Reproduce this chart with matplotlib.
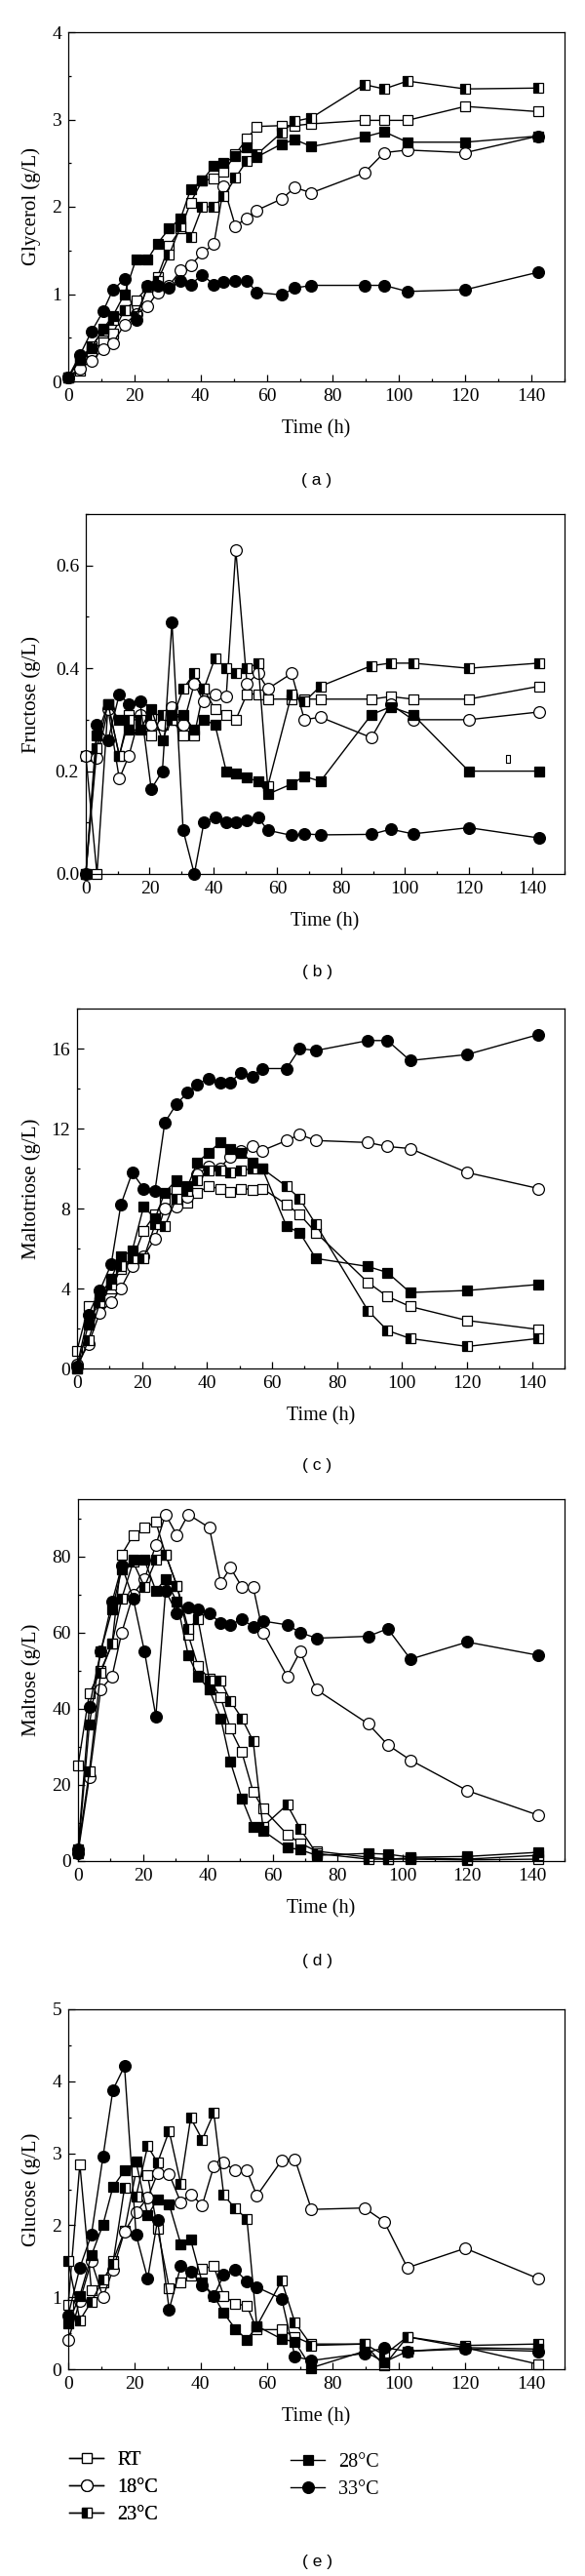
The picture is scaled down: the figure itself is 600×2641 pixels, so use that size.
"""Five stacked panels: glycerol, fructose, maltotriose, maltose and glucose
against fermentation time at five temperatures."""

import matplotlib
matplotlib.use("Agg")
import matplotlib.pyplot as plt
from matplotlib.lines import Line2D
from matplotlib.ticker import MultipleLocator, FormatStrFormatter
import numpy as np

plt.rcParams["font.family"] = "Liberation Serif"

nan = np.nan

# ---------------------------------------------------------------------------
# Data
# ---------------------------------------------------------------------------

TIME = [0, 3.5, 7, 10.5, 13.5, 17, 20.5, 24, 27, 30.5, 34, 37, 40.5, 44, 47,
        50.5, 54, 57, 64.5, 68.5, 73.5, 89.5, 95.5, 102.5, 120, 142]

SERIES = ["RT", "18°C", "23°C", "28°C", "33°C"]

GLYCEROL_RT = [0.05, 0.12, 0.35, 0.45, 0.55, 0.82, 0.93, 1.08, 1.2, 1.55, 1.75, 2.05, 2.3,
               2.32, 2.4, 2.6, 2.78, 2.92, 2.93, 2.93, 2.95, 2.99, 2.99, 2.99, 3.15, 3.09]
GLYCEROL_18 = [0.05, 0.15, 0.23, 0.37, 0.44, 0.65, 0.77, 0.86, 1.02, 1.1, 1.27, 1.33, 1.47,
               1.57, 2.23, 1.78, 1.87, 1.96, 2.09, 2.22, 2.16, 2.39, 2.62, 2.65, 2.62, 2.81]
GLYCEROL_23 = [0.05, 0.25, 0.4, 0.58, 0.7, 0.82, 0.75, 1.08, 1.15, 1.45, 1.78, 1.65, 2.0,
               2.0, 2.12, 2.33, 2.53, 2.6, 2.85, 2.98, 3.02, 3.4, 3.35, 3.44, 3.35, 3.36]
GLYCEROL_28 = [0.05, 0.25, 0.38, 0.6, 0.75, 1.0, 1.4, 1.4, 1.58, 1.75, 1.87, 2.2, 2.3,
               2.47, 2.5, 2.58, 2.68, 2.57, 2.72, 2.77, 2.69, 2.8, 2.86, 2.74, 2.74, 2.81]
GLYCEROL_33 = [0.05, 0.3, 0.57, 0.8, 1.05, 1.17, 0.7, 1.1, 1.1, 1.07, 1.15, 1.11, 1.22,
               1.11, 1.14, 1.15, 1.15, 1.02, 0.99, 1.07, 1.1, 1.1, 1.1, 1.03, 1.05, 1.25]

FRUCTOSE_RT = [0.23, 0.0, 0.33, 0.23, 0.31, 0.3, 0.27, 0.29, 0.3, 0.27, 0.27, 0.36, 0.32,
               0.31, 0.3, 0.35, 0.35, 0.34, 0.34, 0.34, 0.34, 0.34, 0.345, 0.34, 0.34, 0.365]
FRUCTOSE_18 = [0.23, 0.225, 0.32, 0.185, 0.23, 0.31, 0.29, 0.29, 0.325, 0.29, 0.37, 0.335, 0.35,
               0.345, 0.63, 0.37, 0.39, 0.36, 0.39, 0.3, 0.305, 0.265, 0.33, 0.3, 0.3, 0.315]
FRUCTOSE_23 = [0.0, 0.245, 0.33, 0.23, 0.3, 0.3, 0.31, 0.31, 0.3, 0.36, 0.39, 0.36, 0.42,
               0.4, 0.39, 0.4, 0.41, 0.17, 0.35, 0.335, 0.365, 0.405, 0.41, 0.41, 0.4, 0.41]
FRUCTOSE_28 = [0.0, 0.27, 0.33, 0.3, 0.28, 0.28, 0.32, 0.26, 0.31, 0.31, 0.28, 0.3, 0.29,
               0.2, 0.195, 0.187, 0.18, 0.155, 0.175, 0.19, 0.18, 0.31, 0.325, 0.31, 0.2, 0.2]
FRUCTOSE_33 = [0.0, 0.29, 0.26, 0.35, 0.33, 0.335, 0.165, 0.2, 0.49, 0.085, 0.0, 0.1, 0.11,
               0.1, 0.1, 0.105, 0.11, 0.085, 0.075, 0.078, 0.076, 0.077, 0.087, 0.078, 0.09, 0.07]
FRUCTOSE_STRAY = (132.4, 0.224)   # lone tiny open mark in panel (b)

MALTOTRIOSE_RT = [0.9, 3.1, 3.3, 4.0, 5.0, 5.4, 6.9, 7.7, 8.5, 8.9, 8.3, 8.8, 9.1,
                  9.0, 8.85, 9.0, 8.95, 9.0, 8.2, 7.7, 6.8, 4.3, 3.6, 3.1, 2.4, 1.95]
MALTOTRIOSE_18 = [0.2, 1.2, 2.8, 3.3, 4.0, 5.1, 5.6, 6.5, 8.0, 8.1, 8.6, 9.7, 10.1,
                  10.0, 10.6, 10.9, 11.1, 10.9, 11.4, 11.7, 11.4, 11.3, 11.1, 11.0, 9.8, 9.0]
MALTOTRIOSE_23 = [0.0, 1.4, 3.3, 4.2, 5.1, 5.5, 5.5, 7.2, 7.1, 8.5, 8.9, 9.4, 9.9,
                  9.9, 9.8, 9.9, 10.0, 10.0, 9.1, 8.5, 7.2, 2.9, 1.9, 1.5, 1.1, 1.5]
MALTOTRIOSE_28 = [0.0, 2.2, 3.6, 4.5, 5.6, 5.9, 8.1, 7.5, 8.8, 9.4, 9.1, 10.3, 10.8,
                  11.3, 11.0, 10.8, 10.3, 10.0, 7.1, 6.8, 5.5, 5.1, 4.8, 3.8, 3.9, 4.2]
MALTOTRIOSE_33 = [0.1, 2.7, 3.9, 5.2, 8.2, 9.8, 9.0, 8.9, 12.3, 13.2, 13.8, 14.2, 14.5,
                  14.3, 14.3, 14.8, 14.6, 15.0, 15.0, 16.0, 15.9, 16.4, 16.4, 15.4, 15.7, 16.7]

MALTOSE_RT = [25, 44, 50, 57, 80.5, 85.5, 87.5, 89, 80.5, 72.3, 59.3, 51.2, 47.8,
              42.9, 34.7, 28.6, 18.2, 13.8, 7, 4.7, 2.6, 1.0, 0.5, 0.5, 0.3, 0.5]
MALTOSE_18 = [2, 22, 45, 48.5, 60, 70, 74, 83, 91, 85.5, 91, nan, 87.5,
              73, 77, 72, 72, 60, 48.5, 55, 45, 36, 30.5, 26.5, 18.5, 12]
MALTOSE_23 = [3, 23.5, 49.5, 57, 69, 78.5, 72, 79, 80.5, 72.3, 61, 63.5, 47.5,
              47.5, 42, 37.5, 31.5, 9, 14.8, 8.5, 2, 0.5, 0.5, 0.8, 0.5, 1.5]
MALTOSE_28 = [2, 35.8, 55, 66, 76.5, 79, 79, 71, 74, 68, 54, 48.5, 45,
              37.5, 26, 16.5, 9, 8, 3.5, 3, 1.5, 2, 1.8, 1, 1.2, 2.3]
MALTOSE_33 = [3, 40.5, 55, 68, 77.5, 69, 55, 38, 71, 65, 66.5, 66, 65,
              62.5, 62, 63.5, 61.5, 63, 62, 60, 58.5, 59, 61, 53, 57.5, 54]

GLUCOSE_RT = [0.9, 2.85, 1.1, 1.2, 1.5, 1.92, 2.75, 2.69, 1.95, 1.13, 1.21, 1.3, 1.4,
              1.43, 1.02, 0.91, 0.88, 0.55, 0.55, 0.45, 0.35, 0.35, 0.05, 0.45, 0.3, 0.07]
GLUCOSE_18 = [0.4, 0.95, 1.5, 1.0, 1.38, 1.91, 2.18, 2.38, 2.72, 2.71, 2.32, 2.43, 2.28,
              2.82, 2.87, 2.76, 2.76, 2.41, 2.9, 2.92, 2.22, 2.24, 2.05, 1.41, 1.68, 1.26]
GLUCOSE_23 = [1.5, 0.68, 0.94, 1.24, 1.47, 2.52, 2.4, 3.1, 2.87, 3.31, 2.58, 3.49, 3.19,
              3.56, 2.42, 2.23, 2.09, 0.6, 1.23, 0.65, 0.33, 0.35, 0.2, 0.45, 0.33, 0.35]
GLUCOSE_28 = [0.64, 1.02, 1.58, 2.01, 2.53, 2.76, 2.88, 2.14, 2.36, 2.29, 1.74, 1.8, 1.2,
              1.02, 0.78, 0.56, 0.41, 0.6, 0.42, 0.38, 0.02, 0.25, 0.1, 0.25, 0.3, 0.28]
GLUCOSE_33 = [0.75, 1.41, 1.87, 2.95, 3.88, 4.21, 1.87, 1.26, 2.07, 0.83, 1.43, 1.36, 1.17,
              1.02, 1.31, 1.38, 1.22, 1.14, 0.98, 0.18, 0.12, 0.22, 0.3, 0.25, 0.28, 0.25]

# ---------------------------------------------------------------------------
# Styling
# ---------------------------------------------------------------------------

FIG_W, FIG_H = 600, 2641
TICK_FS, LABEL_FS, YLABEL_FS = 14, 14.5, 15
SQ, CI = 7.5, 8.5
STYLE = {
    "RT":   dict(marker="s", ms=SQ, mfc="white"),
    "18°C": dict(marker="o", ms=CI, mfc="white"),
    "23°C": dict(marker="s", ms=SQ, mfc="black", fillstyle="left",
                 markerfacecoloralt="white"),
    "28°C": dict(marker="s", ms=SQ, mfc="black"),
    "33°C": dict(marker="o", ms=CI, mfc="black"),
}
COMMON = dict(color="black", mec="black", mew=0.9, lw=1.0)

# box = (left, right, top, bottom) in pixels; label_y in pixels
PANELS = [
    dict(box=(70, 579, 33, 391), label="( a )", label_y=493,
         ylabel="Glycerol (g/L)", ylim=(0, 4), major=1, minor=0.5, fmt="%d",
         data=[GLYCEROL_RT, GLYCEROL_18, GLYCEROL_23, GLYCEROL_28, GLYCEROL_33]),
    dict(box=(88, 579, 527, 896), label="( b )", label_y=997,
         ylabel="Fructose (g/L)", ylim=(0, 0.7), major=0.2, minor=0.1, fmt="%.1f",
         data=[FRUCTOSE_RT, FRUCTOSE_18, FRUCTOSE_23, FRUCTOSE_28, FRUCTOSE_33]),
    dict(box=(79, 579, 1034, 1403), label="( c )", label_y=1502,
         ylabel="Maltotriose (g/L)", ylim=(0, 18), major=4, minor=2, fmt="%d",
         data=[MALTOTRIOSE_RT, MALTOTRIOSE_18, MALTOTRIOSE_23, MALTOTRIOSE_28,
               MALTOTRIOSE_33]),
    dict(box=(80, 579, 1537, 1908), label="( d )", label_y=2010,
         ylabel="Maltose (g/L)", ylim=(0, 95), major=20, minor=10, fmt="%d",
         data=[MALTOSE_RT, MALTOSE_18, MALTOSE_23, MALTOSE_28, MALTOSE_33]),
    dict(box=(70, 579, 2060, 2429), label="( e )", label_y=2627,
         ylabel="Glucose (g/L)", ylim=(0, 5), major=1, minor=0.5, fmt="%d",
         data=[GLUCOSE_RT, GLUCOSE_18, GLUCOSE_23, GLUCOSE_28, GLUCOSE_33]),
]


def draw_panel(fig, spec):
    left, right, top, bottom = spec["box"]
    w, h = right - left, bottom - top
    ax = fig.add_axes([left / FIG_W, 1 - bottom / FIG_H, w / FIG_W, h / FIG_H])

    t = np.asarray(TIME, dtype=float)
    for name, vals in zip(SERIES, spec["data"]):
        v = np.asarray(vals, dtype=float)
        ok = ~np.isnan(v)
        ax.plot(t[ok], v[ok], clip_on=False, **COMMON, **STYLE[name])

    ax.set_xlim(0, 150)
    ax.set_ylim(*spec["ylim"])
    ax.xaxis.set_major_locator(MultipleLocator(20))
    ax.xaxis.set_minor_locator(MultipleLocator(10))
    ax.yaxis.set_major_locator(MultipleLocator(spec["major"]))
    ax.yaxis.set_minor_locator(MultipleLocator(spec["minor"]))
    ax.yaxis.set_major_formatter(FormatStrFormatter(spec["fmt"]))

    ax.tick_params(which="both", direction="in", top=False, right=False,
                   labelsize=TICK_FS, width=0.9)
    ax.tick_params(which="major", length=5)
    ax.tick_params(which="minor", length=2.5)
    ax.tick_params(axis="x", pad=5)
    ax.tick_params(axis="y", pad=5)
    for sp in ax.spines.values():
        sp.set_linewidth(0.9)

    ax.set_xlabel("Time (h)", fontsize=LABEL_FS)
    ax.xaxis.set_label_coords(0.5, -39 / h)
    ax.set_ylabel(spec["ylabel"], fontsize=YLABEL_FS)
    ax.yaxis.set_label_coords((42 - left) / w, 0.5)

    fig.text(325 / FIG_W, 1 - spec["label_y"] / FIG_H, spec["label"],
             family="Liberation Sans", fontsize=12.5, ha="center", va="center")
    return ax


fig = plt.figure(figsize=(FIG_W / 100, FIG_H / 100), dpi=100)
axes = [draw_panel(fig, p) for p in PANELS]

# small stray open mark present in panel (b)
axes[1].plot([FRUCTOSE_STRAY[0]], [FRUCTOSE_STRAY[1]], ls="none",
             marker=[(-1, -2), (1, -2), (1, 2), (-1, 2), (-1, -2)], ms=6,
             mfc="white", mec="black", mew=0.8)

# legend in two columns under panel (e)
handles = {n: Line2D([], [], **COMMON, **STYLE[n]) for n in SERIES}
leg_kw = dict(loc="upper left", frameon=False, fontsize=LABEL_FS, borderpad=0,
              borderaxespad=0, handlelength=1.75, handletextpad=0.7,
              labelspacing=0.45)
leg1 = fig.legend([handles[n] for n in SERIES[:3]], SERIES[:3],
                  bbox_to_anchor=(71 / FIG_W, 1 - 2513 / FIG_H), **leg_kw)
fig.add_artist(leg1)
fig.legend([handles[n] for n in SERIES[3:]], SERIES[3:],
           bbox_to_anchor=(298 / FIG_W, 1 - 2515 / FIG_H), **leg_kw)

fig.savefig("out.png", dpi=100)
